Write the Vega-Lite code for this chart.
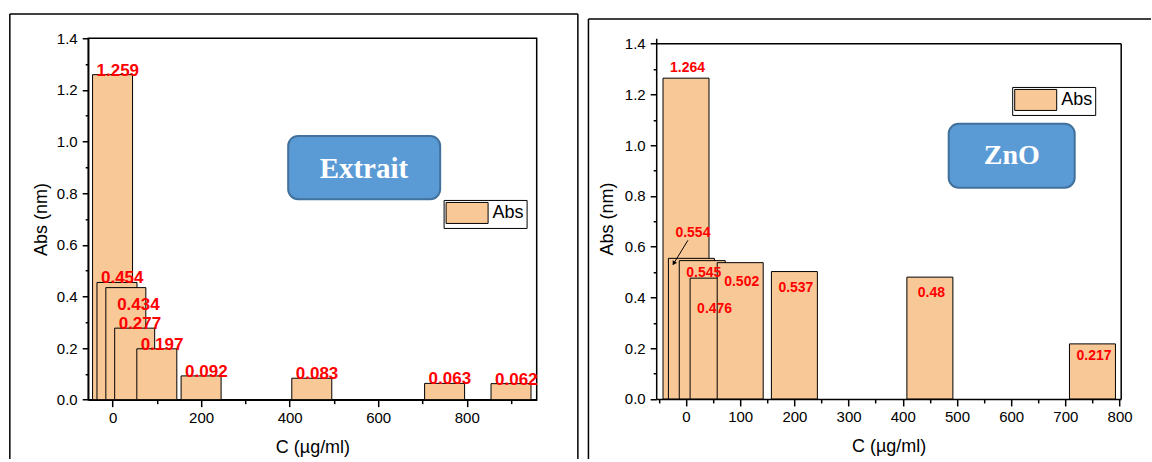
{
  "$schema": "https://vega.github.io/schema/vega-lite/v6.json",
  "background": "white",
  "padding": {"left": 8.2, "top": 12.25, "right": 0, "bottom": 0},
  "spacing": 7,
  "align": "each",
  "config": {
    "view": {"stroke": "black", "strokeWidth": 1.5},
    "scale": {"continuousPadding": 0},
    "font": "Liberation Sans",
    "axis": {
      "domainColor": "black", "domainWidth": 1.5,
      "tickColor": "black", "tickWidth": 1.5,
      "labelFont": "Liberation Sans", "labelFontSize": 15, "labelColor": "black",
      "titleFont": "Liberation Sans", "titleFontSize": 18, "titleFontWeight": "normal", "titleColor": "black",
      "grid": false, "labelFlush": false, "labelOverlap": false
    },
    "legend": {
      "orient": "none",
      "symbolType": "M-1,-1H3V1H-1Z",
      "symbolSize": 441,
      "symbolStrokeColor": "black",
      "symbolStrokeWidth": 1,
      "labelFont": "Liberation Sans",
      "labelFontSize": 18,
      "labelColor": "black",
      "strokeColor": "black",
      "fillColor": "white",
      "padding": 2,
      "labelOffset": 25
    }
  },
  "datasets": {
    "extrait": [
      {"c": 0, "abs": 1.259, "label": "1.259", "series": "Abs"},
      {"c": 10, "abs": 0.454, "label": "0.454", "series": "Abs"},
      {"c": 30, "abs": 0.434, "label": "0.434", "series": "Abs"},
      {"c": 50, "abs": 0.277, "label": "0.277", "series": "Abs"},
      {"c": 100, "abs": 0.197, "label": "0.197", "series": "Abs"},
      {"c": 200, "abs": 0.092, "label": "0.092", "series": "Abs"},
      {"c": 450, "abs": 0.083, "label": "0.083", "series": "Abs"},
      {"c": 750, "abs": 0.063, "label": "0.063", "series": "Abs"},
      {"c": 900, "abs": 0.062, "label": "0.062", "series": "Abs"}
    ],
    "zno": [
      {"c": 0, "abs": 1.264, "label": "1.264", "series": "Abs"},
      {"c": 10, "abs": 0.554, "label": "0.554", "series": "Abs"},
      {"c": 30, "abs": 0.545, "label": "0.545", "series": "Abs"},
      {"c": 50, "abs": 0.476, "label": "0.476", "series": "Abs"},
      {"c": 100, "abs": 0.537, "label": "0.502", "series": "Abs"},
      {"c": 200, "abs": 0.502, "label": "0.537", "series": "Abs"},
      {"c": 450, "abs": 0.48, "label": "0.48", "series": "Abs"},
      {"c": 750, "abs": 0.217, "label": "0.217", "series": "Abs"}
    ]
  },
  "resolve": {"scale": {"color": "independent"}, "legend": {"color": "independent"}},
  "hconcat": [
    {
      "width": 448.5,
      "height": 361.4,
      "resolve": {"axis": {"x": "independent", "y": "independent"}},
      "layer": [
        {
          "data": {"values": [{}]},
          "mark": {"type": "rule", "color": "black", "strokeWidth": 1.5},
          "encoding": {
            "x": {"datum": -232, "axis": null}, "x2": {"datum": 1051},
            "y": {"datum": 1.4944, "axis": null}
          }
        },
        {
          "data": {"values": [{}]},
          "mark": {"type": "rule", "color": "black", "strokeWidth": 1.5},
          "encoding": {
            "x": {"datum": -232, "axis": null},
            "y": {"datum": 1.4944, "axis": null}, "y2": {"datum": -0.2297}
          }
        },
        {
          "data": {"values": [{}]},
          "mark": {"type": "rule", "color": "black", "strokeWidth": 1.5},
          "encoding": {
            "x": {"datum": 1051, "axis": null},
            "y": {"datum": 1.4944, "axis": null}, "y2": {"datum": -0.2297}
          }
        },
        {
          "data": {"name": "extrait"},
          "mark": {"type": "bar", "width": 40, "stroke": "black", "strokeWidth": 1},
          "encoding": {
            "x": {
              "field": "c", "type": "quantitative", "title": "C (µg/ml)",
              "scale": {"domain": [-55, 958], "nice": false, "zero": false, "padding": 0},
              "axis": {
                "orient": "bottom",
                "values": [0, 200, 400, 600, 800],
                "format": "d",
                "tickSize": 7, "labelPadding": 4, "titlePadding": 13
              }
            },
            "y": {
              "field": "abs", "type": "quantitative", "title": "Abs (nm)",
              "scale": {"domain": [0, 1.4], "nice": false},
              "axis": {
                "orient": "left",
                "values": [0, 0.2, 0.4, 0.6, 0.8, 1.0, 1.2, 1.4],
                "format": ".1f",
                "tickSize": 6, "labelPadding": 5, "titlePadding": 6
              }
            },
            "color": {
              "field": "series", "type": "nominal",
              "scale": {"range": ["#F9C897"]},
              "legend": {"title": null, "legendX": 355.4, "legendY": 161.7}
            }
          }
        },
        {
          "data": {"name": "extrait"},
          "mark": {
            "type": "text", "align": "left", "baseline": "alphabetic",
            "font": "Liberation Sans", "fontWeight": "bold", "fontSize": 17, "color": "#FF0000",
            "dx": {"expr": "datum.label === '0.434' ? -8.7 : -16"},
            "dy": {"expr": "datum.label === '0.434' ? 22 : 1"}
          },
          "encoding": {
            "x": {
              "field": "c", "type": "quantitative",
              "axis": {"orient": "bottom", "values": [100, 300, 500, 700, 900], "labels": false, "domain": false, "tickSize": 4, "title": null}
            },
            "y": {
              "field": "abs", "type": "quantitative",
              "axis": {"orient": "left", "values": [0.1, 0.3, 0.5, 0.7, 0.9, 1.1, 1.3], "labels": false, "domain": false, "tickSize": 3, "title": null}
            },
            "text": {"field": "label"}
          }
        },
        {
          "data": {"values": [{}]},
          "mark": {"type": "rect", "fill": "#5B9BD5", "stroke": "#41719C", "strokeWidth": 2, "cornerRadius": 10},
          "encoding": {
            "x": {"datum": 396.7, "axis": null}, "x2": {"datum": 740},
            "y": {"datum": 1.0217, "axis": null}, "y2": {"datum": 0.7764}
          }
        },
        {
          "data": {"values": [{}]},
          "mark": {
            "type": "text", "text": "Extrait", "font": "Liberation Serif", "fontWeight": "bold",
            "fontSize": 29, "color": "white", "align": "center", "baseline": "middle"
          },
          "encoding": {"x": {"datum": 567.7, "axis": null}, "y": {"datum": 0.8927, "axis": null}}
        }
      ]
    },
    {
      "width": 465,
      "height": 360.7,
      "view": {"stroke": null},
      "resolve": {"axis": {"x": "independent", "y": "independent"}},
      "layer": [
        {
          "data": {"values": [{}]},
          "mark": {"type": "rule", "color": "black", "strokeWidth": 1.5},
          "encoding": {
            "x": {"datum": -180, "axis": null}, "x2": {"datum": 858},
            "y": {"datum": 1.4973, "axis": null}
          }
        },
        {
          "data": {"values": [{}]},
          "mark": {"type": "rule", "color": "black", "strokeWidth": 1.5},
          "encoding": {
            "x": {"datum": -180, "axis": null},
            "y": {"datum": 1.4973, "axis": null}, "y2": {"datum": -0.2364}
          }
        },
        {
          "data": {"values": [{}]},
          "mark": {"type": "rule", "color": "black", "strokeWidth": 1.5},
          "encoding": {
            "x": {"datum": -55, "axis": null}, "x2": {"datum": 803},
            "y": {"datum": 1.4, "axis": null}
          }
        },
        {
          "data": {"values": [{}]},
          "mark": {"type": "rule", "color": "black", "strokeWidth": 1.5},
          "encoding": {
            "x": {"datum": 803, "axis": null},
            "y": {"datum": 1.4, "axis": null}, "y2": {"datum": 0}
          }
        },
        {
          "data": {"name": "zno"},
          "mark": {"type": "bar", "width": 46, "stroke": "black", "strokeWidth": 1},
          "encoding": {
            "x": {
              "field": "c", "type": "quantitative", "title": "C (µg/ml)",
              "scale": {"domain": [-55, 803], "nice": false, "zero": false, "padding": 0},
              "axis": {
                "orient": "bottom",
                "values": [0, 100, 200, 300, 400, 500, 600, 700, 800],
                "format": "d",
                "tickSize": 7, "labelPadding": 4, "titlePadding": 13
              }
            },
            "y": {
              "field": "abs", "type": "quantitative", "title": "Abs (nm)",
              "scale": {"domain": [0, 1.4213], "nice": false},
              "axis": {
                "orient": "left",
                "values": [0, 0.2, 0.4, 0.6, 0.8, 1.0, 1.2, 1.4],
                "format": ".1f",
                "tickSize": 6, "labelPadding": 5, "titlePadding": 8
              }
            },
            "color": {
              "field": "series", "type": "nominal",
              "scale": {"range": ["#F9C897"]},
              "legend": {"title": null, "legendX": 356, "legendY": 48.7}
            }
          }
        },
        {
          "data": {"name": "zno"},
          "mark": {
            "type": "text", "align": "center", "baseline": "middle",
            "font": "Liberation Sans", "fontWeight": "bold", "fontSize": 14, "color": "#FF0000",
            "dx": 1.5,
            "dy": {"expr": "datum.label === '1.264' ? -10 : datum.label === '0.554' ? -25 : datum.label === '0.476' ? 31 : datum.label === '0.502' ? 19 : datum.label === '0.545' || datum.label === '0.217' ? 12.5 : 16"}
          },
          "encoding": {
            "x": {
              "field": "c", "type": "quantitative",
              "axis": {"orient": "bottom", "values": [-50, 50, 150, 250, 350, 450, 550, 650, 750], "labels": false, "domain": false, "tickSize": 4, "title": null}
            },
            "y": {
              "field": "abs", "type": "quantitative",
              "axis": {"orient": "left", "values": [0.1, 0.3, 0.5, 0.7, 0.9, 1.1, 1.3], "labels": false, "domain": false, "tickSize": 3, "title": null}
            },
            "text": {"field": "label"}
          }
        },
        {
          "data": {"values": [{}]},
          "mark": {"type": "rule", "color": "black", "strokeWidth": 1},
          "encoding": {
            "x": {"datum": 3.5, "axis": null}, "y": {"datum": 0.625, "axis": null},
            "x2": {"datum": -22.6}, "y2": {"datum": 0.534}
          }
        },
        {
          "data": {"values": [{}]},
          "mark": {"type": "point", "shape": "triangle-up", "filled": true, "color": "black", "opacity": 1, "size": 25, "angle": 211},
          "encoding": {"x": {"datum": -22.6, "axis": null}, "y": {"datum": 0.534, "axis": null}}
        },
        {
          "data": {"values": [{}]},
          "mark": {"type": "rect", "fill": "#5B9BD5", "stroke": "#41719C", "strokeWidth": 2, "cornerRadius": 10},
          "encoding": {
            "x": {"datum": 484.7, "axis": null}, "x2": {"datum": 717.2},
            "y": {"datum": 1.0847, "axis": null}, "y2": {"datum": 0.8325}
          }
        },
        {
          "data": {"values": [{}]},
          "mark": {
            "type": "text", "text": "ZnO", "font": "Liberation Serif", "fontWeight": "bold",
            "fontSize": 28, "color": "white", "align": "center", "baseline": "middle"
          },
          "encoding": {"x": {"datum": 601, "axis": null}, "y": {"datum": 0.9555, "axis": null}}
        }
      ]
    }
  ]
}
